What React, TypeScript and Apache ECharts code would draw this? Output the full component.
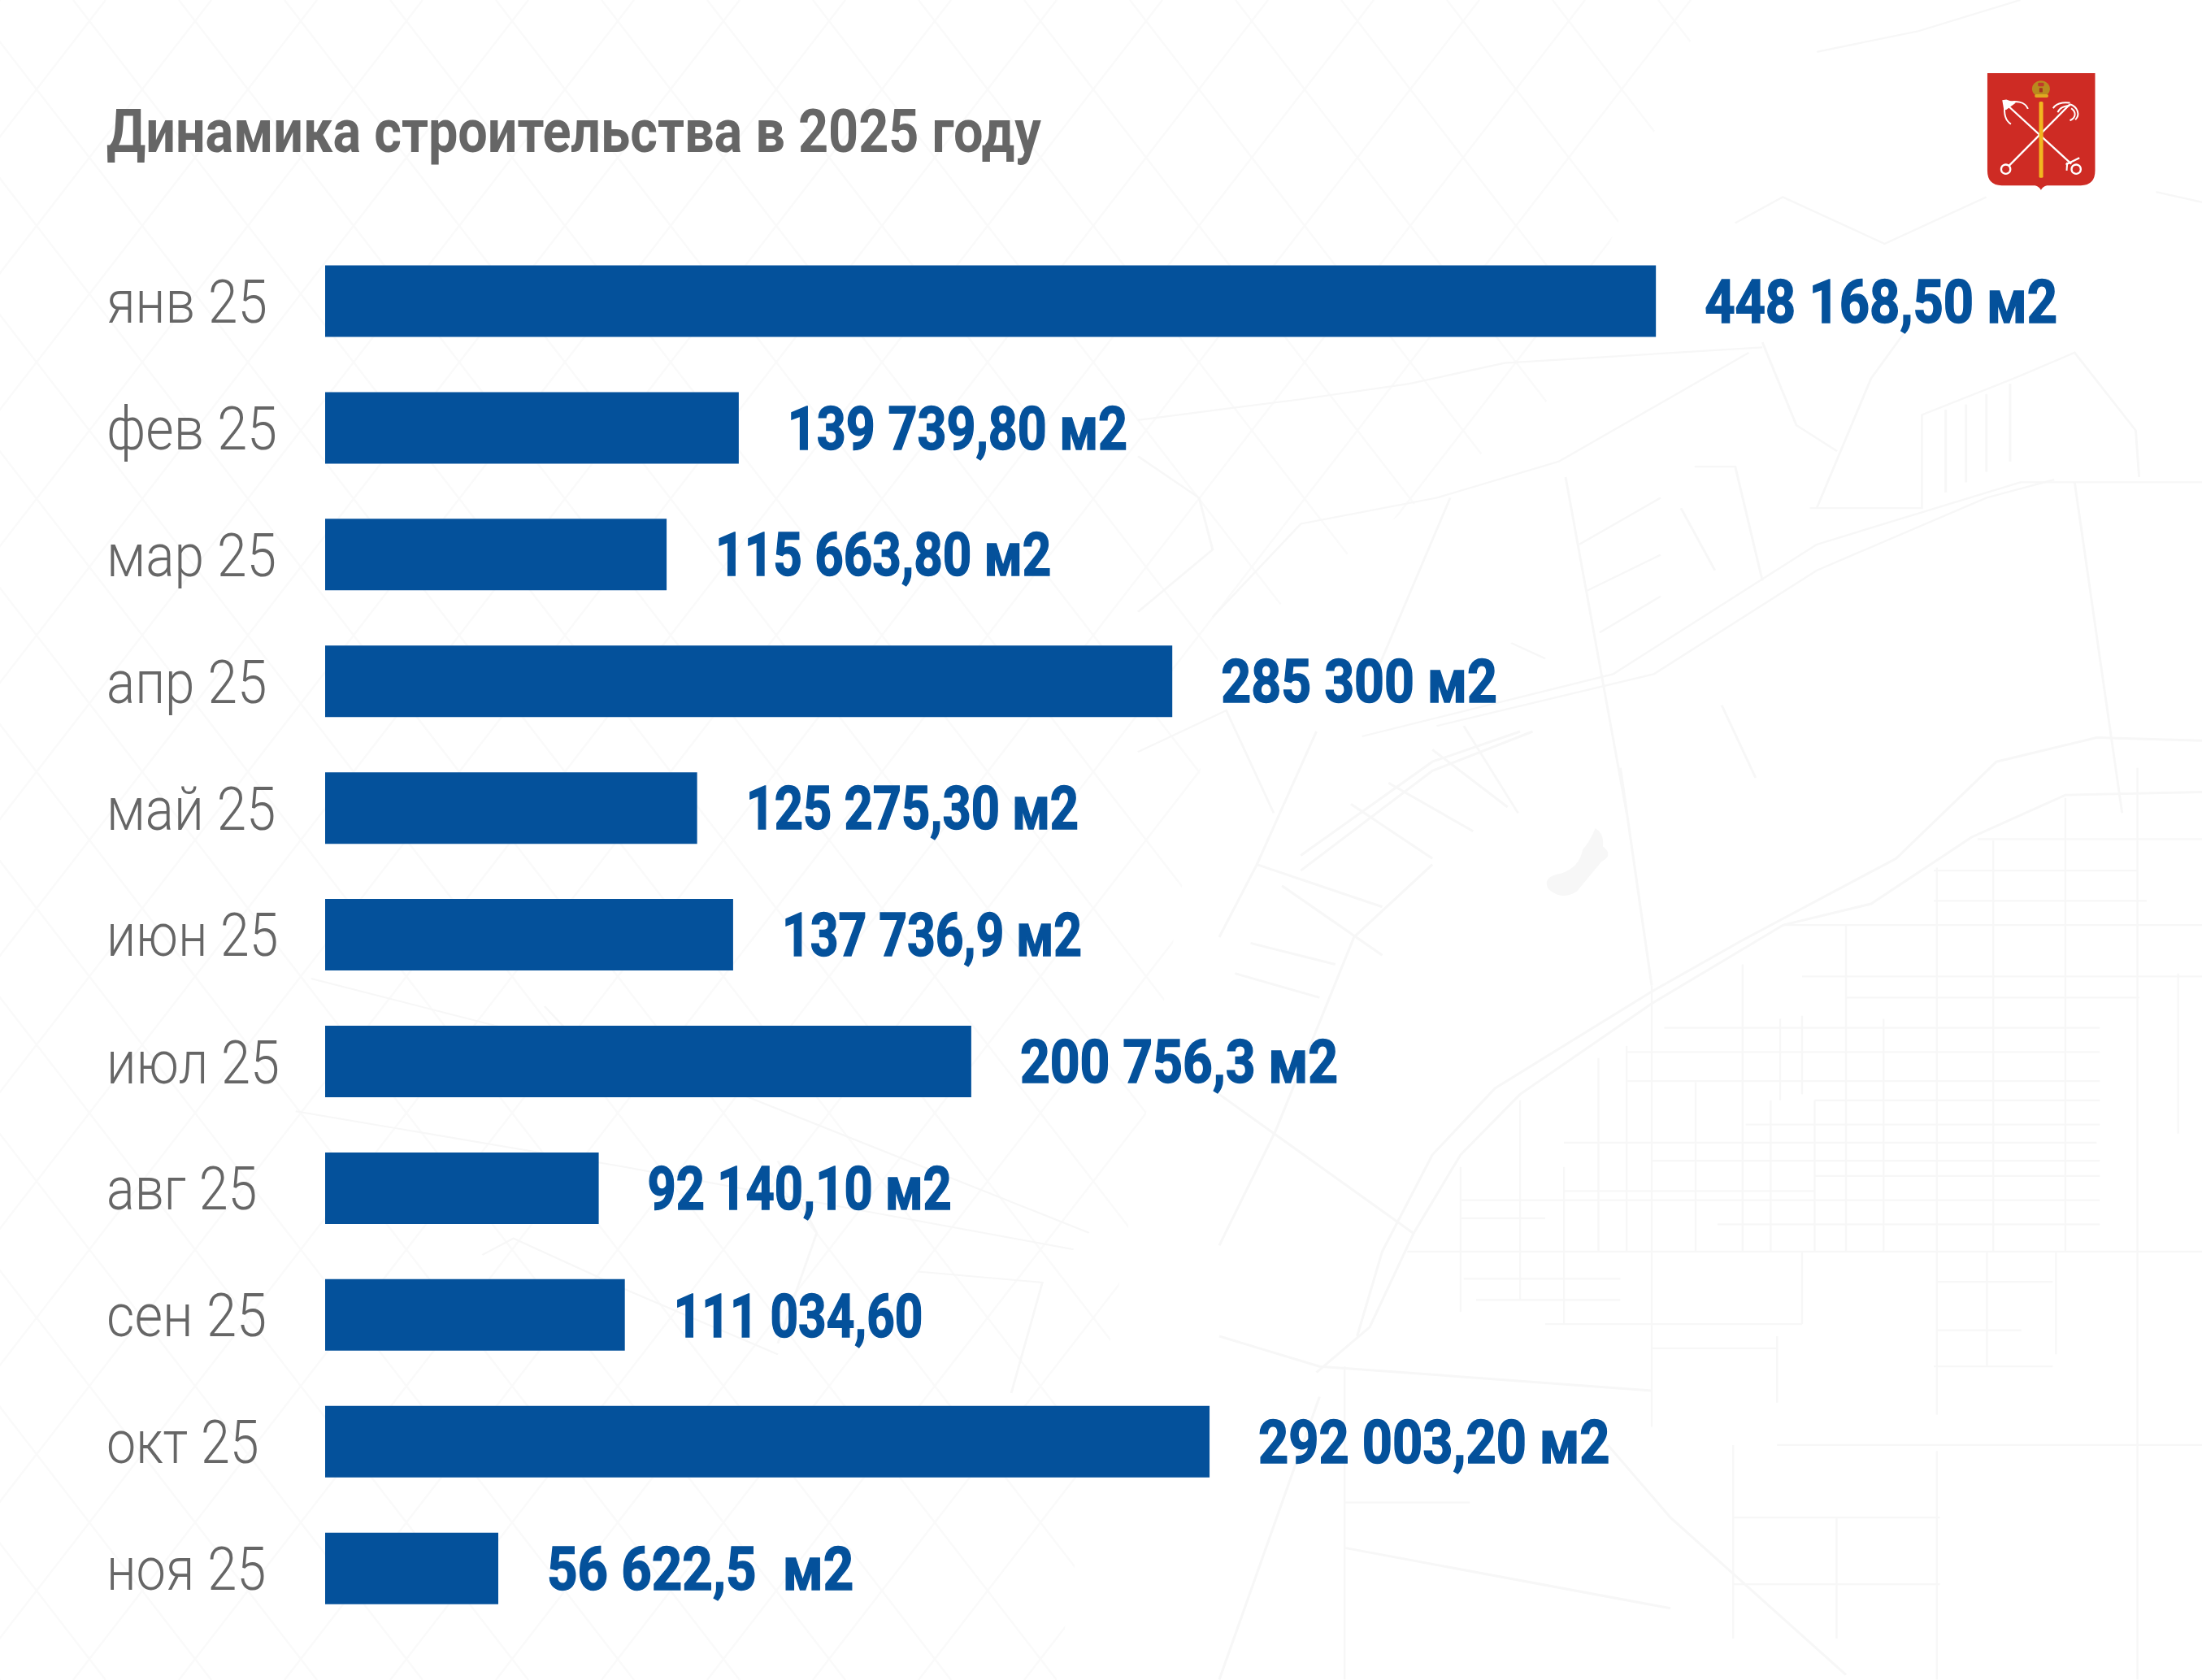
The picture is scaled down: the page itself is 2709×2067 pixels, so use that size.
import React, { useEffect, useRef } from "react";
import * as echarts from "echarts";

const titleText = "Динамика строительства в 2025 году";
const categories = ["янв 25", "фев 25", "мар 25", "апр 25", "май 25", "июн 25", "июл 25", "авг 25", "сен 25", "окт 25", "ноя 25"];
// Bar lengths as drawn in the picture (they do not always follow the printed figure)
const drawnLengths = [448168.5, 139300, 115000, 285300, 125275, 137400, 217600, 92140, 100930, 297850, 58310];
// Labels exactly as printed
const printedLabels = [
  "448 168,50 м2", "139 739,80 м2", "115 663,80 м2", "285 300 м2", "125 275,30 м2", "137 736,9 м2",
  "200 756,3 м2", "92 140,10 м2", "111 034,60", "292 003,20 м2", "56 622,5  м2",
];
// Horizontal condensing of each text, to imitate the condensed face of the original
const monthCondense = [0.886, 0.9, 0.89, 0.887, 0.884, 0.868, 0.876, 0.873, 0.904, 0.872, 0.879];
const figureCondense = [0.88, 0.848, 0.838, 0.871, 0.83, 0.819, 0.868, 0.83, 0.815, 0.877, 0.884];

const FONT = "Roboto, 'Liberation Sans', sans-serif";
const BLUE = "#04519b";
const GREY = "#666666";
const STREET = "#f7f7f7";
const LATTICE = "#fafafa";

echarts.graphic.registerShape(
  "shieldShape",
  echarts.graphic.extendPath(
    "M135 90 H533 V450 Q533 505 480 505 H355 Q340 508 333 522 Q326 508 311 505 H188 Q135 505 135 450 Z",
    {}
  )
);
echarts.graphic.registerShape(
  "pondShape",
  echarts.graphic.extendPath(
    "M600 160 Q615 170 612 190 Q630 205 610 215 Q590 240 570 265 Q545 280 525 260 Q515 240 545 235 Q575 225 580 195 Q590 185 600 160 Z",
    {}
  )
);

const H_STREETS: number[][] = [
  [900, 320, 1568], [930, 405, 1568], [1000, 440, 1468], [710, 490, 1405], [650, 530, 1405], [650, 578, 1405],
  [950, 610, 1405], [840, 650, 1405], [550, 680, 1400], [690, 710, 1405], [950, 735, 1405], [385, 775, 1405],
  [550, 760, 950], [385, 805, 520], [795, 815, 1405], [300, 860, 1568], [390, 905, 640], [410, 940, 640],
  [520, 980, 930], [1145, 910, 1330], [1145, 990, 1280], [690, 1020, 890], [1140, 1050, 1330],
  [890, 1180, 1568], [200, 1275, 400], [820, 1300, 1150], [820, 1410, 1150], [1140, 230, 1465], [1140, 280, 1480], [1210, 178, 1568],
];
const V_STREETS: number[][] = [
  [835, 385, 860], [895, 475, 610], [930, 470, 600], [1060, 475, 860], [1145, 225, 860], [1235, 180, 860],
  [1350, 110, 860], [1465, 60, 1568], [1530, 400, 665], [650, 520, 860], [690, 420, 1150], [760, 580, 860],
  [950, 610, 860], [880, 610, 860], [1000, 320, 860], [385, 720, 960], [480, 610, 940], [550, 720, 980],
  [605, 540, 860], [930, 860, 980], [1145, 860, 1130], [1225, 860, 1050], [820, 1180, 1500], [1145, 1190, 1568],
  [200, 1050, 1568], [985, 1300, 1500], [890, 1000, 1110], [1335, 860, 1030],
];
const LONG_ROADS: number[][][] = [
  [[0, 1000], [160, 1050], [690, 1090]],
  [[155, 1060], [240, 985], [310, 830], [385, 700], [480, 600], [690, 450], [900, 320], [1040, 285], [1200, 175], [1350, 105], [1568, 100]],
  [[130, 205], [340, 50], [480, 0]],
  [[130, 230], [340, 65], [500, 0]],
  [[220, 1000], [260, 860], [340, 700], [440, 590], [690, 430], [835, 345], [1080, 210], [1240, 50], [1400, 10], [1568, 15]],
  [[0, 600], [310, 830]],
  [[0, 850], [90, 660], [215, 340], [340, 220]],
  [[155, 0], [60, 220], [0, 340]],
  [[60, 220], [260, 290]],
  [[100, 255], [260, 370]],
  [[50, 350], [185, 385]],
  [[25, 400], [160, 440]],
  [[210, 120], [340, 210]],
  [[270, 85], [405, 165]],
  [[340, 30], [460, 125]],
  [[620, 1180], [720, 1300], [1000, 1560]],
  [[0, 1568], [160, 1100]],
  [[200, 1350], [720, 1450]],
  [[640, 60], [690, 420]],
];
// Light streets of the upper right part, in the coordinates of a 1568x1568 view of that part
const UPPER_RIGHT_ROADS: number[][][] = [
  [[0, 810], [240, 770], [400, 740], [540, 700], [920, 670]],
  [[110, 1190], [240, 1010], [440, 960], [620, 890], [900, 680]],
  [[330, 1420], [700, 1300], [1000, 1050], [1300, 930], [1568, 930]],
  [[440, 1400], [760, 1300], [1000, 1100], [1250, 960], [1350, 925]],
  [[1380, 930], [1450, 1568]],
  [[630, 920], [720, 1568]],
  [[460, 960], [350, 1300]],
  [[990, 980], [1155, 980], [1155, 800], [1290, 730], [1380, 680], [1470, 830], [1475, 920]],
  [[1190, 790], [1190, 950]],
  [[1220, 780], [1220, 930]],
  [[1250, 760], [1250, 910]],
  [[1285, 740], [1285, 890]],
  [[1000, 980], [1080, 730], [1130, 640]],
  [[920, 660], [970, 820], [1030, 870]],
  [[820, 900], [880, 900], [920, 1120]],
  [[800, 980], [850, 1100]],
  [[650, 1050], [770, 960]],
  [[660, 1140], [770, 1070]],
  [[680, 1220], [770, 1150]],
  [[0, 880], [90, 960], [110, 1060], [0, 1180]],
  [[550, 1240], [600, 1270]],
  [[0, 1450], [130, 1370], [200, 1568]],
  [[480, 1400], [560, 1568]],
  [[860, 1360], [910, 1500]],
  [[1000, 100], [1150, 60], [1300, 0]],
  [[880, 430], [950, 380], [1100, 470], [1250, 380]],
  [[1500, 370], [1568, 390]],
];
const BOTTOM_LEFT_ROADS: number[][][] = [
  [[400, 300], [900, 480], [1400, 760]],
  [[380, 540], [800, 640], [1380, 790]],
  [[1000, 630], [1050, 760], [1000, 960]],
  [[620, 800], [660, 770], [800, 860], [1000, 980]],
  [[1180, 830], [1340, 850], [1300, 1050]],
  [[700, 350], [800, 500]],
];

function streetGraphics(): any[] {
  const line = (x1: number, y1: number, x2: number, y2: number) => ({
    type: "line", silent: true, z: -4, shape: { x1, y1, x2, y2 }, style: { stroke: STREET, lineWidth: 3, fill: "none" },
  });
  const poly = (points: number[][], lineWidth: number) => ({
    type: "polyline", silent: true, z: -4, shape: { points }, style: { stroke: STREET, lineWidth, fill: "none" },
  });
  // Faint diamond lattice behind the left and upper parts of the page
  const lattice: any[] = [];
  for (let k = -1600; k < 2800; k += 130) {
    lattice.push({ type: "line", silent: true, z: -6, shape: { x1: k, y1: 0, x2: k + 1600, y2: 2067 }, style: { stroke: LATTICE, lineWidth: 2.5 } });
    lattice.push({ type: "line", silent: true, z: -6, shape: { x1: k + 1600, y1: 0, x2: k, y2: 2067 }, style: { stroke: LATTICE, lineWidth: 2.5 } });
  }
  return [
    { type: "group", silent: true, children: lattice },
    {
      type: "polygon", silent: true, z: -5,
      shape: { points: [[2100, 0], [2709, 0], [2709, 2067], [1300, 2067], [1500, 800], [1900, 500]] },
      style: { fill: "#ffffff" },
    },
    {
      type: "group", x: 1400, y: 0, scaleX: 1309 / 1568, scaleY: 1000 / 1568, silent: true,
      children: UPPER_RIGHT_ROADS.map((p) => poly(p, 3.5)),
    },
    {
      type: "group", x: 0, y: 1000, scaleX: 1500 / 1568, scaleY: 1067 / 1568, silent: true,
      children: BOTTOM_LEFT_ROADS.map((p) => poly(p, 3)),
    },
    {
      type: "group", x: 1500, y: 900, scaleX: 1209 / 1568, scaleY: 1167 / 1568, silent: true,
      children: [
        ...H_STREETS.map(([a, y, b]) => line(a, y, b, y)),
        ...V_STREETS.map(([x, a, b]) => line(x, a, x, b)),
        ...LONG_ROADS.map((p) => poly(p, 4)),
        { type: "pondShape", z: -4, style: { fill: STREET } },
      ],
    },
  ];
}

function coatOfArms(): any {
  const white = { stroke: "#ffffff", lineWidth: 7, fill: "none" };
  const thin = { stroke: "#ffffff", lineWidth: 6, fill: "none" };
  const curve = (x1: number, y1: number, cpx1: number, cpy1: number, cpx2: number, cpy2: number, x2: number, y2: number) => ({
    type: "bezierCurve", shape: { x1, y1, cpx1, cpy1, cpx2, cpy2, x2, y2 }, style: thin,
  });
  return {
    type: "group", x: 2400, y: 60, scaleX: 1 / 3, scaleY: 1 / 3, silent: true,
    children: [
      { type: "shieldShape", style: { fill: "#ce2b24" } },
      { type: "line", shape: { x1: 205, y1: 205, x2: 445, y2: 425 }, style: white },
      { type: "line", shape: { x1: 215, y1: 432, x2: 440, y2: 205 }, style: white },
      { type: "polygon", shape: { points: [[190, 190], [205, 188], [240, 200], [205, 225], [196, 225]] }, style: { fill: "#ffffff" } },
      curve(200, 200, 240, 190, 275, 195, 285, 222),
      curve(200, 205, 195, 240, 200, 265, 222, 278),
      curve(440, 200, 410, 195, 385, 205, 378, 220),
      curve(440, 210, 420, 210, 400, 220, 395, 235),
      curve(440, 205, 470, 215, 478, 245, 460, 262),
      curve(445, 220, 465, 235, 462, 255, 440, 265),
      { type: "circle", shape: { cx: 203, cy: 445, r: 17 }, style: white },
      { type: "circle", shape: { cx: 463, cy: 445, r: 17 }, style: white },
      { type: "line", shape: { x1: 425, y1: 428, x2: 475, y2: 403 }, style: white },
      { type: "line", shape: { x1: 430, y1: 420, x2: 428, y2: 450 }, style: thin },
      { type: "rect", shape: { x: 326, y: 195, width: 15, height: 282, r: 5 }, style: { fill: "#f2b71f" } },
      { type: "ellipse", shape: { cx: 333, cy: 148, rx: 33, ry: 30 }, style: { fill: "#b98a1e" } },
      { type: "rect", shape: { x: 310, y: 168, width: 50, height: 12, r: 5 }, style: { fill: "#e0a920" } },
      { type: "rect", shape: { x: 322, y: 125, width: 22, height: 14, r: 4 }, style: { fill: "#c0392b" } },
      { type: "rect", shape: { x: 327, y: 145, width: 12, height: 16, r: 2 }, style: { fill: "#a8321f" } },
    ],
  };
}

export default function App() {
  const ref = useRef<HTMLDivElement>(null);
  useEffect(() => {
    const chart = echarts.init(ref.current!, undefined, { renderer: "svg" });
    chart.setOption({
      animation: false,
      backgroundColor: "#ffffff",
      grid: { left: 400, top: 292.6, width: 1826.5, height: 1715 },
      xAxis: { type: "value", min: 0, max: 500000, show: false },
      yAxis: {
        type: "category", inverse: true, data: categories,
        axisLine: { show: false }, axisTick: { show: false }, splitLine: { show: false }, axisLabel: { show: false },
      },
      series: [
        { type: "bar", data: drawnLengths, barWidth: 88, itemStyle: { color: BLUE }, z: 2 },
        {
          // Month labels: horizontally condensed real text, placed from the category scale
          type: "custom", z: 3, clip: false, silent: true,
          data: categories.map((_, i) => [0, i]),
          renderItem: (_p: any, api: any) => {
            const pt = api.coord([api.value(0), api.value(1)]);
            const i = api.value(1);
            return {
              type: "text", x: pt[0] - 269, y: pt[1] + 1, scaleX: monthCondense[i],
              style: {
                text: categories[i], fill: GREY, fontFamily: FONT, fontWeight: 300, fontSize: 74,
                align: "left", verticalAlign: "middle",
              },
            };
          },
        },
        {
          // Printed figures: horizontally condensed real text, placed from the value scale
          type: "custom", z: 3, clip: false, silent: true,
          data: drawnLengths.map((v, i) => [v, i]),
          renderItem: (_p: any, api: any) => {
            const pt = api.coord([api.value(0), api.value(1)]);
            const i = api.value(1);
            return {
              type: "text", x: pt[0] + 60, y: pt[1] + 1, scaleX: figureCondense[i],
              style: {
                text: printedLabels[i], fill: BLUE, stroke: BLUE, lineWidth: 1.5,
                fontFamily: FONT, fontWeight: 700, fontSize: 74, align: "left", verticalAlign: "middle",
              },
            };
          },
        },
      ],
      graphic: {
        elements: [
          ...streetGraphics(),
          coatOfArms(),
          {
            type: "text", x: 131, y: 162, scaleX: 0.875, silent: true,
            style: { text: titleText, fill: GREY, fontFamily: FONT, fontWeight: 700, fontSize: 74, align: "left", verticalAlign: "middle" },
          },
        ],
      },
    });
    return () => chart.dispose();
  }, []);
  return <div ref={ref} style={{ position: "absolute", left: 0, top: 0, width: 2709, height: 2067 }} />;
}
